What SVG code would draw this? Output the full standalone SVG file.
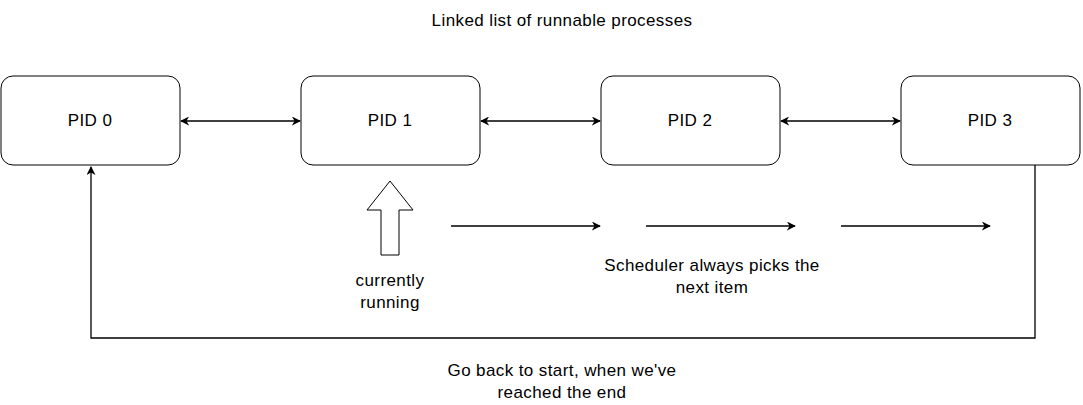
<svg xmlns="http://www.w3.org/2000/svg" width="1083" height="405" viewBox="0 0 1083 405">
<style>
text{font-family:"Liberation Sans",Arial,sans-serif;font-size:17px;letter-spacing:0.4px;fill:#000;text-anchor:middle}
.n{fill:#fff;stroke:#000;stroke-width:1}
.c{fill:none;stroke:#000;stroke-width:1.3}
</style>
<defs>
<marker id="a" viewBox="0 0 10 10" refX="9" refY="5" markerWidth="9" markerHeight="9" orient="auto-start-reverse" markerUnits="userSpaceOnUse"><path d="M0,0L10,5L0,10L3,5z" fill="#000"/></marker>
</defs>
<rect width="1083" height="405" fill="#fff"/>
<text x="562" y="26">Linked list of runnable processes</text>
<g id="pid0"><rect class="n" x="1" y="76" width="179" height="89" rx="12"/><text x="90" y="126">PID 0</text></g>
<g id="pid1"><rect class="n" x="301" y="76" width="179" height="89" rx="12"/><text x="390" y="126">PID 1</text></g>
<g id="pid2"><rect class="n" x="601" y="76" width="179" height="89" rx="12"/><text x="690" y="126">PID 2</text></g>
<g id="pid3"><rect class="n" x="901" y="76" width="179" height="89" rx="12"/><text x="990" y="126">PID 3</text></g>
<g id="connectors">
<path class="c" d="M181,121H300" marker-start="url(#a)" marker-end="url(#a)"/>
<path class="c" d="M481,121H600" marker-start="url(#a)" marker-end="url(#a)"/>
<path class="c" d="M781,121H900" marker-start="url(#a)" marker-end="url(#a)"/>
<path class="c" d="M1035,165V338H91V167" marker-end="url(#a)"/>
<path class="c" d="M451,226H600" marker-end="url(#a)"/>
<path class="c" d="M646,226H795" marker-end="url(#a)"/>
<path class="c" d="M841,226H990" marker-end="url(#a)"/>
</g>
<g id="running-arrow"><path d="M390,181L413,210H399V255H381V210H367Z" fill="#fff" stroke="#000"/></g>
<text x="390" y="286">currently</text>
<text x="390" y="308">running</text>
<text x="712" y="271">Scheduler always picks the</text>
<text x="712" y="293">next item</text>
<text x="562" y="376">Go back to start, when we've</text>
<text x="562" y="398">reached the end</text>
</svg>
